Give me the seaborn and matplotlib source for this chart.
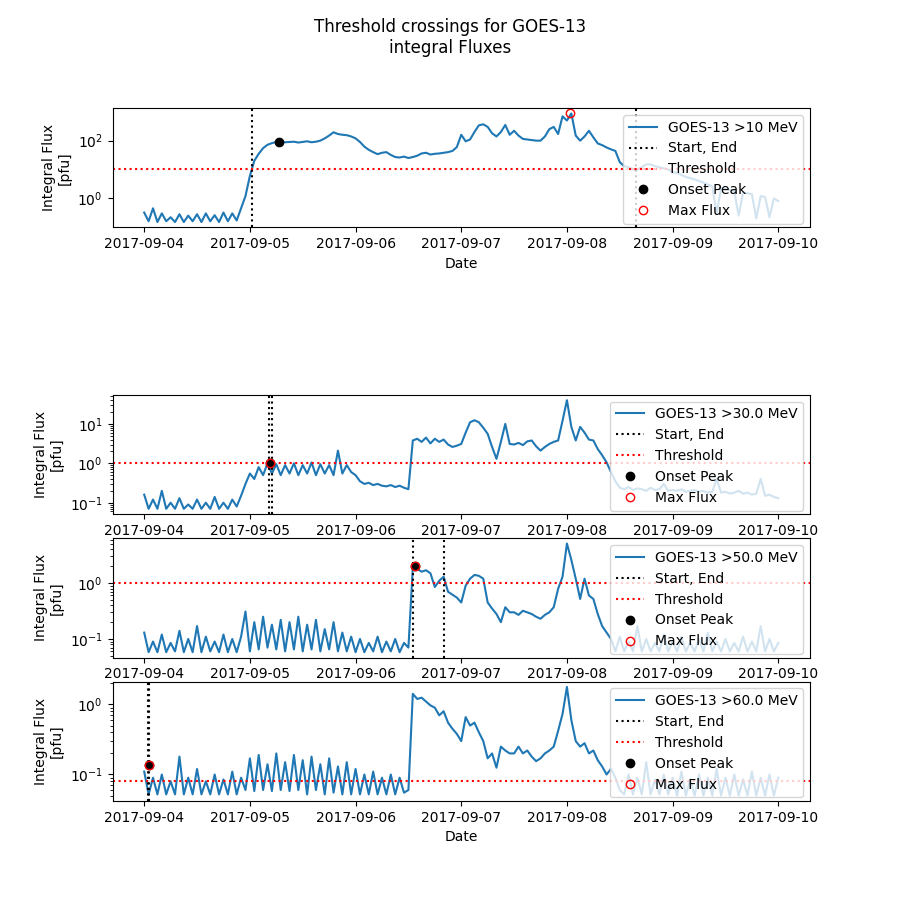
import pandas as pd
import numpy as np
import matplotlib
matplotlib.use("Agg")
import matplotlib.pyplot as plt
import seaborn as sns

# hourly samples from 2017-09-04 00:00 to 2017-09-10 00:00
flux_10 = [
    0.32, 0.16, 0.45, 0.15, 0.30, 0.16, 0.22, 0.15, 0.28, 0.15, 0.25, 0.16,
    0.28, 0.15, 0.30, 0.16, 0.26, 0.15, 0.32, 0.16, 0.30, 0.17, 0.45, 1.2,
    6.0, 20, 35, 55, 72, 82, 90, 92, 88, 90, 92, 86,
    90, 95, 88, 92, 100, 120, 150, 195, 170, 160, 155, 140,
    120, 90, 62, 48, 40, 34, 38, 40, 32, 27, 26, 28,
    25, 27, 30, 36, 38, 33, 35, 36, 38, 40, 44, 60,
    160, 95, 110, 200, 340, 370, 300, 180, 140, 200, 350, 160,
    220, 150, 115, 110, 105, 100, 100, 140, 250, 300, 170, 700,
    500, 880, 150, 100, 140, 220, 130, 80, 70, 58, 50, 44,
    18, 13, 12, 10, 10, 12, 15, 15, 13, 12, 11, 10,
    8.0, 7.6, 6.5, 5.5, 5.0, 4.5, 4.0, 3.5, 3.0, 2.6, 0.3, 2.2,
    2.1, 2.0, 1.8, 0.25, 1.6, 1.5, 1.4, 0.2, 1.2, 1.1, 0.22, 1.0,
    0.8,
]
flux_30 = [
    0.16, 0.07, 0.12, 0.07, 0.20, 0.07, 0.10, 0.07, 0.13, 0.07, 0.09, 0.07,
    0.12, 0.07, 0.10, 0.07, 0.14, 0.07, 0.10, 0.07, 0.12, 0.08, 0.15, 0.30,
    0.55, 0.40, 0.80, 0.50, 1.0, 0.55, 0.95, 0.50, 0.90, 0.55, 1.0, 0.50,
    0.90, 0.55, 1.05, 0.50, 0.95, 0.55, 0.90, 0.50, 2.1, 0.55, 0.90, 0.60,
    0.50, 0.35, 0.30, 0.32, 0.28, 0.30, 0.27, 0.26, 0.28, 0.25, 0.27, 0.24,
    0.22, 3.8, 4.2, 3.5, 4.5, 3.2, 4.2, 3.5, 4.0, 3.0, 2.6, 2.8,
    3.1, 6.0, 11, 12.4, 11, 8.0, 5.6, 2.6, 1.3, 3.5, 10, 3.1,
    3.0, 3.3, 2.9, 3.6, 3.8, 2.7, 2.1, 2.6, 3.1, 3.5, 3.8, 12,
    40, 8.4, 3.8, 8.4, 6.0, 4.0, 3.8, 2.3, 1.6, 1.06, 0.60, 0.35,
    0.24, 0.22, 0.25, 0.21, 0.23, 0.22, 0.20, 0.24, 0.21, 0.22, 0.30, 0.20,
    0.21, 0.20, 0.22, 0.19, 0.20, 0.21, 0.19, 0.20, 0.18, 0.19, 0.40, 0.18,
    0.19, 0.17, 0.18, 0.20, 0.17, 0.18, 0.16, 0.17, 0.40, 0.15, 0.16, 0.14,
    0.13,
]
flux_50 = [
    0.13, 0.058, 0.09, 0.058, 0.12, 0.058, 0.085, 0.06, 0.14, 0.058, 0.10, 0.058,
    0.17, 0.058, 0.11, 0.06, 0.09, 0.058, 0.12, 0.058, 0.10, 0.058, 0.11, 0.31,
    0.06, 0.20, 0.065, 0.25, 0.07, 0.18, 0.065, 0.22, 0.06, 0.20, 0.065, 0.25,
    0.06, 0.18, 0.065, 0.22, 0.06, 0.15, 0.065, 0.20, 0.06, 0.13, 0.06, 0.11,
    0.058, 0.10, 0.058, 0.085, 0.06, 0.11, 0.058, 0.09, 0.06, 0.10, 0.058, 0.085,
    0.07, 1.9, 1.8, 1.6, 1.7, 1.5, 0.85, 1.1, 1.3, 0.70, 0.62, 0.55,
    0.45, 0.90, 1.2, 1.4, 1.35, 1.2, 0.45, 0.35, 0.28, 0.20, 0.37, 0.30,
    0.30, 0.27, 0.32, 0.30, 0.28, 0.25, 0.23, 0.27, 0.30, 0.37, 0.79, 1.3,
    5.1, 2.6, 1.2, 0.52, 1.2, 0.60, 0.52, 0.28, 0.17, 0.13, 0.10, 0.06,
    0.11, 0.06, 0.09, 0.06, 0.17, 0.06, 0.10, 0.06, 0.085, 0.06, 0.12, 0.06,
    0.09, 0.06, 0.11, 0.06, 0.085, 0.06, 0.10, 0.06, 0.13, 0.06, 0.09, 0.06,
    0.10, 0.06, 0.085, 0.06, 0.11, 0.06, 0.09, 0.06, 0.17, 0.06, 0.10, 0.06,
    0.085,
]
flux_60 = [
    0.11, 0.052, 0.09, 0.052, 0.10, 0.052, 0.08, 0.052, 0.18, 0.052, 0.09, 0.052,
    0.12, 0.052, 0.08, 0.052, 0.10, 0.052, 0.085, 0.052, 0.11, 0.052, 0.09, 0.06,
    0.17, 0.058, 0.19, 0.06, 0.14, 0.058, 0.20, 0.06, 0.15, 0.058, 0.19, 0.06,
    0.16, 0.052, 0.18, 0.06, 0.14, 0.052, 0.17, 0.055, 0.13, 0.052, 0.15, 0.052,
    0.12, 0.052, 0.10, 0.052, 0.11, 0.052, 0.09, 0.052, 0.10, 0.052, 0.09, 0.055,
    0.06, 1.42, 1.2, 1.25, 1.1, 0.97, 0.90, 0.70, 0.80, 0.55, 0.45, 0.38,
    0.30, 0.66, 0.50, 0.55, 0.40, 0.30, 0.17, 0.20, 0.125, 0.25, 0.22, 0.20,
    0.20, 0.25, 0.20, 0.22, 0.18, 0.155, 0.17, 0.20, 0.22, 0.25, 0.42, 0.73,
    1.78, 0.60, 0.30, 0.25, 0.28, 0.20, 0.22, 0.16, 0.13, 0.10, 0.12, 0.09,
    0.06, 0.052, 0.10, 0.052, 0.09, 0.052, 0.15, 0.052, 0.085, 0.052, 0.10, 0.052,
    0.09, 0.05, 0.11, 0.05, 0.085, 0.05, 0.10, 0.05, 0.09, 0.05, 0.12, 0.05,
    0.09, 0.05, 0.10, 0.05, 0.085, 0.05, 0.11, 0.05, 0.09, 0.05, 0.10, 0.05,
    0.09,
]

labels = ["GOES-13 >10 MeV", "GOES-13 >30.0 MeV", "GOES-13 >50.0 MeV", "GOES-13 >60.0 MeV"]
thresholds = [10, 1, 1, 0.08]
starts = ["2017-09-05 00:35", "2017-09-05 04:25", "2017-09-06 12:58", "2017-09-04 00:55"]
ends = ["2017-09-08 15:40", "2017-09-05 05:00", "2017-09-06 20:00", "2017-09-04 01:05"]
onset_times = ["2017-09-05 06:40", "2017-09-05 04:30", "2017-09-06 13:26", "2017-09-04 01:00"]
onset_vals = [92, 1.0, 2.0, 0.135]
max_times = ["2017-09-08 00:45", "2017-09-05 04:30", "2017-09-06 13:26", "2017-09-04 01:00"]
max_vals = [880, 1.0, 2.0, 0.135]

series = [flux_10, flux_30, flux_50, flux_60]
times = pd.date_range("2017-09-04 00:00", periods=len(flux_10), freq="h")

fig = plt.figure(figsize=(9, 9), dpi=100)
fig.suptitle("Threshold crossings for GOES-13\nintegral Fluxes")
rows = [1, 3, 4, 5]

for i, vals in enumerate(series):
    ax = fig.add_subplot(5, 1, rows[i])
    df = pd.DataFrame({"Date": times, "Flux": vals})
    sns.lineplot(data=df, x="Date", y="Flux", ax=ax, color="tab:blue",
                 linewidth=1.5, label=labels[i])
    ax.set_yscale("log")
    ax.axvline(pd.Timestamp(starts[i]), color="black", linestyle=":", label="Start, End")
    ax.axvline(pd.Timestamp(ends[i]), color="black", linestyle=":")
    ax.axhline(thresholds[i], color="red", linestyle=":", label="Threshold")
    ax.plot(pd.Timestamp(onset_times[i]), onset_vals[i], "o", color="black", label="Onset Peak")
    ax.plot(pd.Timestamp(max_times[i]), max_vals[i], "o", mfc="none", mec="red", label="Max Flux")
    ax.set_ylabel("Integral Flux\n[pfu]")
    if rows[i] in (1, 5):
        ax.set_xlabel("Date")
    else:
        ax.set_xlabel("")
    ax.legend(loc="upper right")

plt.savefig("out.png", dpi=100)
plt.close()
